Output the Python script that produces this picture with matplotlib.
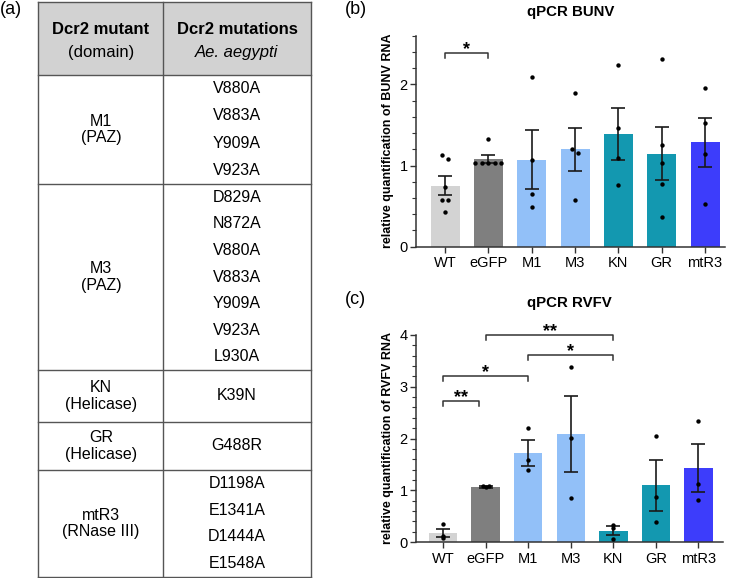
import numpy as np
import matplotlib
matplotlib.use('Agg')
import matplotlib.pyplot as plt
from matplotlib.ticker import MultipleLocator

plt.rcParams['font.family'] = ['Liberation Sans', 'DejaVu Sans']

# --- data -------------------------------------------------------------
groups = ['WT', 'eGFP', 'M1', 'M3', 'KN', 'GR', 'mtR3']
bar_colors = ['#d3d3d3', '#7f7f7f', '#92c0f8', '#92c0f8', '#1398b0', '#1398b0', '#3d3dfb']

bunv_mean = [0.753, 1.082, 1.07, 1.20, 1.387, 1.148, 1.288]
bunv_sem = [0.12, 0.054, 0.362, 0.268, 0.319, 0.327, 0.30]
bunv_points = [
    [1.13, 1.08, 0.74, 0.57, 0.57, 0.43],
    [1.325, 1.03, 1.03, 1.03, 1.03, 1.03],
    [2.09, 1.066, 0.65, 0.486],
    [1.89, 1.198, 1.152, 0.572],
    [2.243, 1.465, 1.09, 0.761],
    [2.309, 1.255, 1.037, 0.774, 0.366],
    [1.955, 1.523, 1.144, 0.527],
]

rvfv_mean = [0.175, 1.065, 1.726, 2.087, 0.219, 1.10, 1.43]
rvfv_sem = [0.075, 0.012, 0.249, 0.731, 0.082, 0.493, 0.463]
rvfv_points = [
    [0.34, 0.11, 0.07],
    [1.09, 1.06, 1.08],
    [2.21, 1.585, 1.39],
    [3.388, 2.016, 0.857],
    [0.33, 0.277, 0.058],
    [2.04, 0.876, 0.393],
    [2.33, 1.12, 0.818],
]

# significance brackets: (x1, x2, y, label)
bunv_sig = [(0, 1, 2.39, '*')]
rvfv_sig = [(0, 0.83, 2.73, '**'), (0, 2, 3.21, '*'), (2, 4, 3.62, '*'), (1, 4, 4.0, '**')]

mutants = ['M1\n(PAZ)', 'M3\n(PAZ)', 'KN\n(Helicase)', 'GR\n(Helicase)', 'mtR3\n(RNase III)']
mutations = [
    ['V880A', 'V883A', 'Y909A', 'V923A'],
    ['D829A', 'N872A', 'V880A', 'V883A', 'Y909A', 'V923A', 'L930A'],
    ['K39N'],
    ['G488R'],
    ['D1198A', 'E1341A', 'D1444A', 'E1548A'],
]

W, H = 735, 578
fig = plt.figure(figsize=(W / 100, H / 100), dpi=100)


def px_axes(x0, y0, x1, y1):
    # pixel box (top-left origin) -> figure axes
    return fig.add_axes([x0 / W, 1 - y1 / H, (x1 - x0) / W, (y1 - y0) / H])


def spread(vals, tol):
    # horizontal offsets for points that would sit on top of each other
    offs = np.zeros(len(vals))
    used = [False] * len(vals)
    for i in range(len(vals)):
        if used[i]:
            continue
        grp = [j for j in range(len(vals)) if not used[j] and abs(vals[j] - vals[i]) < tol]
        for j in grp:
            used[j] = True
        n = len(grp)
        if n > 1:
            for k, j in enumerate(grp):
                offs[j] = (k - (n - 1) / 2) * 0.15
    return offs


def bar_panel(ax, means, sems, pts, sigs, ymax, title, ylabel, tol, xlim, tpad):
    x = np.arange(len(groups))
    ax.bar(x, means, width=0.67, color=bar_colors, zorder=1)
    ax.errorbar(x, means, yerr=sems, fmt='none', ecolor='#1a1a1a', elinewidth=1.2,
                capsize=5, capthick=1.2, zorder=3)
    for i, p in enumerate(pts):
        offs = spread(p, tol)
        ax.scatter(i + offs, p, s=10, color='black', zorder=4, linewidths=0)
    ax.set_xlim(*xlim)
    ax.set_ylim(0, ymax)
    ax.set_xticks(x)
    ax.set_xticklabels(groups, fontsize=10.5)
    ax.yaxis.set_major_locator(MultipleLocator(1))
    ax.yaxis.set_minor_locator(MultipleLocator(0.2))
    ax.tick_params(axis='y', which='major', length=4, width=1, labelsize=10.5, pad=2, color='#333333')
    ax.tick_params(axis='y', which='minor', length=3, width=0.8, color='#333333')
    ax.tick_params(axis='x', length=4, width=1, pad=3, color='#333333')
    for s in ['top', 'right']:
        ax.spines[s].set_visible(False)
    for s in ['left', 'bottom']:
        ax.spines[s].set_linewidth(1.1)
        ax.spines[s].set_color('#333333')
    ax.set_title(title, fontsize=10.8, fontweight='bold', pad=tpad)
    ax.set_ylabel(ylabel, fontsize=9, fontweight='bold', labelpad=4)
    tick = ymax * 0.025
    for x1, x2, y, lab in sigs:
        ax.plot([x1, x1, x2, x2], [y - tick, y, y, y - tick], color='#333333', lw=1.1,
                clip_on=False, zorder=5)
        ax.annotate(lab, ((x1 + x2) / 2, y), xytext=(0, -1), textcoords='offset points',
                    ha='center', va='baseline', fontsize=13, fontweight='bold',
                    annotation_clip=False)


ax_b = px_axes(416, 35.7, 725, 246.7)
bar_panel(ax_b, bunv_mean, bunv_sem, bunv_points, bunv_sig, 2.6, 'qPCR BUNV',
          'relative quantification of BUNV RNA', 0.05, (-0.67, 6.46), 14)

ax_c = px_axes(416, 335, 723, 542)
bar_panel(ax_c, rvfv_mean, rvfv_sem, rvfv_points, rvfv_sig, 4, 'qPCR RVFV',
          'relative quantification of RVFV RNA', 0.025, (-0.64, 6.58), 20)

# --- table panel ------------------------------------------------------
ax_t = fig.add_axes([0, 0, 1, 1], zorder=-1)
ax_t.set_xlim(0, W)
ax_t.set_ylim(H, 0)
ax_t.axis('off')

xl, xm, xr = 38, 163, 311
row_edges = [75, 184, 370, 422, 470, 577]
ax_t.fill_between([xl, xr], 2, 75, color='#d2d2d2', lw=0)
lc = '#555555'
for yy in [2] + row_edges:
    ax_t.plot([xl, xr], [yy, yy], color=lc, lw=1)
for xx in [xl, xm, xr]:
    ax_t.plot([xx, xx], [2, 577], color=lc, lw=1)

c1, c2 = 101, 237
ax_t.text(c1, 30, 'Dcr2 mutant', ha='center', va='center', fontsize=12, fontweight='bold')
ax_t.text(c1, 52, '(domain)', ha='center', va='center', fontsize=12)
ax_t.text(c2, 30, 'Dcr2 mutations', ha='center', va='center', fontsize=12, fontweight='bold')
ax_t.text(c2, 52, 'Ae. aegypti', ha='center', va='center', fontsize=12, style='italic')

for i, (m, muts) in enumerate(zip(mutants, mutations)):
    top, bot = row_edges[i], row_edges[i + 1]
    mid = (top + bot) / 2
    ax_t.text(c1, mid, m, ha='center', va='center', fontsize=11.5, linespacing=1.1)
    n = len(muts)
    step = (bot - top) / n
    for k, s in enumerate(muts):
        ax_t.text(c2, top + step * (k + 0.5), s, ha='center', va='center', fontsize=11.5)

ax_t.text(0, 9, '(a)', ha='left', va='center', fontsize=13)
ax_t.text(345, 10, '(b)', ha='left', va='center', fontsize=13)
ax_t.text(345, 300, '(c)', ha='left', va='center', fontsize=13)

fig.savefig('out.png', dpi=100)
